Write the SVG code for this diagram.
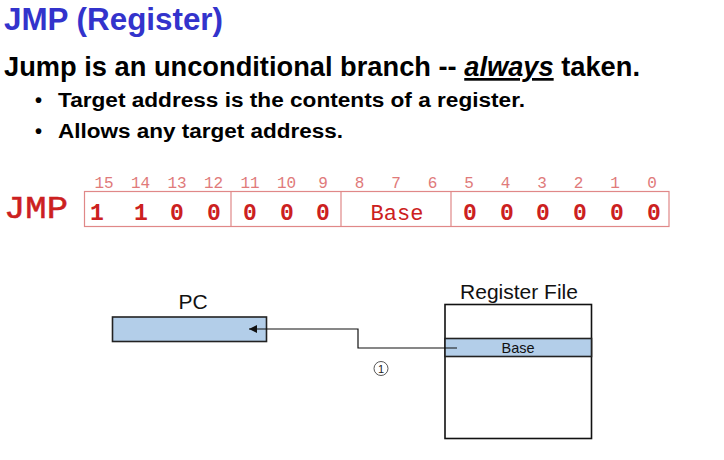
<svg xmlns="http://www.w3.org/2000/svg" width="724" height="460" viewBox="0 0 724 460">
<defs>
<style>
.title{font-family:"Liberation Sans",Arial,sans-serif;font-weight:bold;font-size:31px;fill:#3333cc}
.head{font-family:"Liberation Sans",Arial,sans-serif;font-weight:bold;font-size:27px;fill:#000}
.bul{font-family:"Liberation Sans",Arial,sans-serif;font-weight:bold;font-size:20px;fill:#000}
.num{font-family:"Liberation Mono","Courier New",monospace;font-size:16px;fill:#e07a7a;text-anchor:middle}
.val{font-family:"Liberation Mono","Courier New",monospace;font-weight:bold;font-size:23px;fill:#cc2020;text-anchor:middle}
.fld{fill:none;stroke:#e08888;stroke-width:1.2}
.lbl{font-family:"Liberation Sans",Arial,sans-serif;font-size:21px;fill:#111;text-anchor:middle}
.reg{fill:#b3cee9;stroke:#222;stroke-width:1.6}
.box{fill:#fff;stroke:#111;stroke-width:1.6}
.wire{fill:none;stroke:#111;stroke-width:1.2}
</style>
<marker id="ah" viewBox="0 0 10 10" refX="10" refY="5" markerWidth="10" markerHeight="8" markerUnits="userSpaceOnUse" orient="auto">
<path d="M0,0 L10,5 L0,10 z" fill="#111"/>
</marker>
</defs>

<g id="text-block">
<text class="title" x="4" y="30" textLength="219" lengthAdjust="spacingAndGlyphs">JMP (Register)</text>
<text class="head" x="4" y="76" textLength="636" lengthAdjust="spacingAndGlyphs">Jump is an unconditional branch -- <tspan font-style="italic" text-decoration="underline">always</tspan> taken.</text>
<text class="bul" x="35" y="107">•</text>
<text class="bul" x="58" y="107" textLength="467" lengthAdjust="spacingAndGlyphs">Target address is the contents of a register.</text>
<text class="bul" x="35" y="138">•</text>
<text class="bul" x="58" y="138" textLength="285" lengthAdjust="spacingAndGlyphs">Allows any target address.</text>
</g>

<g id="instruction">
<text x="4" y="218" font-family="'Liberation Mono','Courier New',monospace" font-size="31" fill="#cc2020" stroke="#cc2020" stroke-width="0.5" textLength="64" lengthAdjust="spacingAndGlyphs">JMP</text>
<rect class="fld" x="84.5" y="191.5" width="584.5" height="35"/>
<line class="fld" x1="231" y1="191.5" x2="231" y2="226.5"/>
<line class="fld" x1="341" y1="191.5" x2="341" y2="226.5"/>
<line class="fld" x1="451" y1="191.5" x2="451" y2="226.5"/>
<text class="num" x="104" y="188">15</text>
<text class="num" x="140.5" y="188">14</text>
<text class="num" x="177" y="188">13</text>
<text class="num" x="213.5" y="188">12</text>
<text class="num" x="250" y="188">11</text>
<text class="num" x="286.5" y="188">10</text>
<text class="num" x="323" y="188">9</text>
<text class="num" x="359.5" y="188">8</text>
<text class="num" x="396" y="188">7</text>
<text class="num" x="432.5" y="188">6</text>
<text class="num" x="469" y="188">5</text>
<text class="num" x="505.5" y="188">4</text>
<text class="num" x="542" y="188">3</text>
<text class="num" x="578.5" y="188">2</text>
<text class="num" x="615" y="188">1</text>
<text class="num" x="652" y="188">0</text>
<text class="val" x="97" y="220">1</text>
<text class="val" x="141" y="220">1</text>
<text class="val" x="177" y="220">0</text>
<text class="val" x="214" y="220">0</text>
<text class="val" x="250" y="220">0</text>
<text class="val" x="287" y="220">0</text>
<text class="val" x="323" y="220">0</text>
<text x="397" y="220" font-family="'Liberation Mono','Courier New',monospace" font-size="22" fill="#cc2020" text-anchor="middle">Base</text>
<text class="val" x="470" y="220">0</text>
<text class="val" x="507" y="220">0</text>
<text class="val" x="543" y="220">0</text>
<text class="val" x="580" y="220">0</text>
<text class="val" x="617" y="220">0</text>
<text class="val" x="654" y="220">0</text>
</g>

<g id="pc">
<text class="lbl" x="193" y="309">PC</text>
<rect class="reg" x="112.5" y="317" width="154" height="24.5"/>
</g>

<g id="register-file">
<text class="lbl" x="519" y="299">Register File</text>
<rect class="box" x="445" y="304.5" width="146.5" height="134"/>
<rect class="reg" x="445" y="338.5" width="146.5" height="18"/>
<text x="518" y="353" font-family="'Liberation Sans',Arial,sans-serif" font-size="14.5" fill="#111" text-anchor="middle">Base</text>
</g>

<g id="connectors">
<polyline class="wire" points="457,348 358,348 358,329 249,329" marker-end="url(#ah)"/>
<circle cx="381" cy="368.5" r="7" fill="#fff" stroke="#444" stroke-width="0.9"/>
<text x="381" y="372.5" font-family="'Liberation Sans',Arial,sans-serif" font-size="11" fill="#222" text-anchor="middle">1</text>
</g>
</svg>
